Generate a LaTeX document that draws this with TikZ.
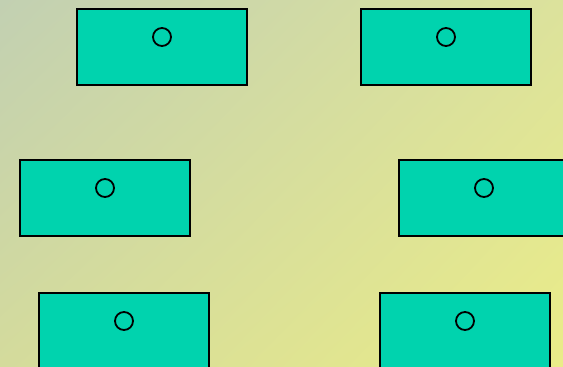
\documentclass[tikz,border=0pt]{standalone}
\usetikzlibrary{shadings}
\definecolor{bgTL}{HTML}{C2D0B2}
\definecolor{bgTR}{HTML}{DCE29C}
\definecolor{bgBL}{HTML}{D4DB9C}
\definecolor{bgBR}{HTML}{EAEC88}
\definecolor{boxfill}{HTML}{00D3AE}
\begin{document}
\begin{tikzpicture}[x=1pt,y=-1pt,
  card/.style={draw=black, line width=2pt, fill=boxfill, rectangle,
    minimum width=170pt, minimum height=76pt, inner sep=0pt, anchor=north west},
  dot/.style={draw=black, line width=1.8pt, circle, minimum size=18pt, inner sep=0pt}]
  \useasboundingbox (0,0) rectangle (563,367);
  \shade[upper left=bgTL, upper right=bgTR, lower left=bgBL, lower right=bgBR]
    (0,0) rectangle (563,367);
  % six cards, each with a small ring near its top
  \foreach \n/\x/\y in {a/76/8, b/360/8, c/19/159, d/398/159, e/38/292, f/379/292} {
    \node[card] (\n) at (\x,\y) {};
    \node[dot] (\n dot) at ([yshift=-29pt]\n.north) {};
  }
\end{tikzpicture}
\end{document}
